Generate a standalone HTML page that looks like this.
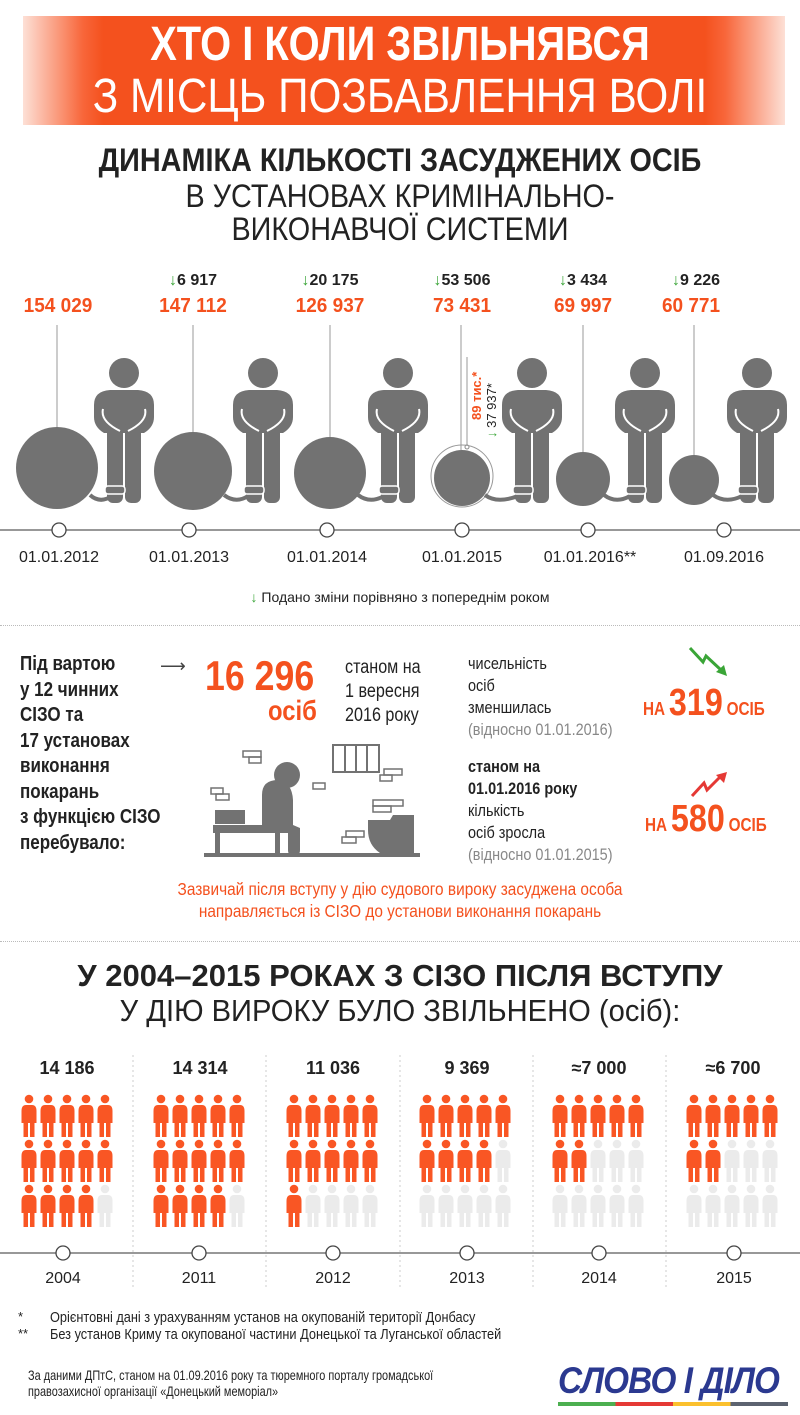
<!DOCTYPE html>
<html><head><meta charset="utf-8">
<style>
*{margin:0;padding:0;box-sizing:border-box}
body{width:800px;height:1415px;background:#fff;position:relative;overflow:hidden;font-family:"Liberation Sans","DejaVu Sans",sans-serif;color:#222}
.a{position:absolute;white-space:nowrap}
.c{transform:translateX(-50%)}
.or{color:#f4511e}
.n{font-weight:bold;font-size:20px;color:#f4511e;transform:translateX(-50%) scaleX(.95)}
.d{font-weight:bold;font-size:16px;color:#222;transform:translateX(-50%)}
.g{color:#3aa537}
.dt{font-size:16px;color:#222;transform:translateX(-50%)}
.nar{transform-origin:left center;transform:scaleX(.85)}
</style></head><body>

<!-- header -->
<div class="a" style="left:23px;top:16px;width:762px;height:109px;background:linear-gradient(90deg,#fde0d6 0,#f8663a 60px,#f4511e 80px,#f4511e 682px,#f8663a 702px,#fde0d6 762px)"></div>
<div class="a c" style="left:400px;top:17px;font-size:48px;font-weight:bold;color:#fff;transform:translateX(-50%) scaleX(.83)">ХТО І КОЛИ ЗВІЛЬНЯВСЯ</div>
<div class="a c" style="left:400px;top:69px;font-size:48px;color:#fff;transform:translateX(-50%) scaleX(.88)">З МІСЦЬ ПОЗБАВЛЕННЯ ВОЛІ</div>

<div class="a c" style="left:400px;top:142px;font-size:32px;font-weight:bold;color:#222;transform:translateX(-50%) scaleX(.9)">ДИНАМІКА КІЛЬКОСТІ ЗАСУДЖЕНИХ ОСІБ</div>
<div class="a c" style="left:400px;top:178px;font-size:32px;color:#222;transform:translateX(-50%) scaleX(.9)">В УСТАНОВАХ КРИМІНАЛЬНО-</div>
<div class="a c" style="left:400px;top:211px;font-size:32px;color:#222;transform:translateX(-50%) scaleX(.9)">ВИКОНАВЧОЇ СИСТЕМИ</div>

<!-- timeline numbers -->
<div class="a n" style="left:58px;top:295px">154 029</div>
<div class="a n" style="left:193px;top:295px">147 112</div>
<div class="a n" style="left:330px;top:295px">126 937</div>
<div class="a n" style="left:462px;top:295px">73 431</div>
<div class="a n" style="left:583px;top:295px">69 997</div>
<div class="a n" style="left:691px;top:295px">60 771</div>
<div class="a d" style="left:193px;top:272px"><span class="g">↓</span>6 917</div>
<div class="a d" style="left:330px;top:272px"><span class="g">↓</span>20 175</div>
<div class="a d" style="left:462px;top:272px"><span class="g">↓</span>53 506</div>
<div class="a d" style="left:583px;top:272px"><span class="g">↓</span>3 434</div>
<div class="a d" style="left:696px;top:272px"><span class="g">↓</span>9 226</div>

<svg class="a" style="left:0;top:0" width="800" height="620">
<defs>
<g id="p">
<circle cx="0" cy="0" r="15" fill="#727272"/>
<path d="M-30,32 Q-30,18 -14,17 L14,17 Q30,18 30,32 L30,44 Q30,54 20,60 L-20,60 Q-30,54 -30,44Z" fill="#727272"/>
<rect x="-17" y="48" width="16" height="82" rx="6" fill="#727272"/>
<rect x="1" y="48" width="16" height="82" rx="6" fill="#727272"/>
<path d="M-21,36 Q-24,48 -4,58 M21,36 Q24,48 4,58" stroke="#fff" stroke-width="2" fill="none"/>
<rect x="-19" y="113" width="20" height="8" rx="3" fill="#727272" stroke="#fff" stroke-width="1.5"/>
</g>
</defs>
<g stroke="#aaa" stroke-width="1.2">
<line x1="57" y1="325" x2="57" y2="428"/>
<line x1="193" y1="325" x2="193" y2="432"/>
<line x1="330" y1="325" x2="330" y2="437"/>
<line x1="461" y1="325" x2="461" y2="450"/>
<line x1="467" y1="357" x2="467" y2="447"/>
<line x1="583" y1="325" x2="583" y2="452"/>
<line x1="694" y1="325" x2="694" y2="455"/>
</g>
<circle cx="467" cy="447" r="2" fill="#fff" stroke="#888"/>
<g fill="#727272">
<circle cx="57" cy="468" r="41"/>
<circle cx="193" cy="471" r="39"/>
<circle cx="330" cy="473" r="36"/>
<circle cx="462" cy="478" r="28"/>
<circle cx="583" cy="479" r="27"/>
<circle cx="694" cy="480" r="25"/>
</g>
<circle cx="462" cy="476" r="31" fill="none" stroke="#999" stroke-width="1"/>
<g stroke="#727272" stroke-width="4" fill="none">
<path d="M90,495 Q100,504 112,496"/>
<path d="M224,495 Q236,504 248,496"/>
<path d="M358,495 Q370,504 384,496"/>
<path d="M485,495 Q497,504 518,496"/>
<path d="M604,495 Q616,504 630,496"/>
<path d="M713,495 Q726,504 742,496"/>
</g>
<use href="#p" x="124" y="373"/>
<use href="#p" x="263" y="373"/>
<use href="#p" x="398" y="373"/>
<use href="#p" x="532" y="373"/>
<use href="#p" x="645" y="373"/>
<use href="#p" x="757" y="373"/>
<line x1="0" y1="530" x2="800" y2="530" stroke="#777" stroke-width="1.5"/>
<g fill="#fff" stroke="#444" stroke-width="1.3">
<circle cx="59" cy="530" r="7"/><circle cx="189" cy="530" r="7"/><circle cx="327" cy="530" r="7"/>
<circle cx="462" cy="530" r="7"/><circle cx="588" cy="530" r="7"/><circle cx="724" cy="530" r="7"/>
</g>
<text transform="translate(481,420) rotate(-90)" font-size="13" font-weight="bold" fill="#f4511e" font-family="Liberation Sans">89 тис.*</text>
<text transform="translate(496,438) rotate(-90)" font-size="13" fill="#222" font-family="Liberation Sans"><tspan fill="#3aa537" font-weight="bold">↓</tspan> 37 937*</text>
</svg>

<div class="a dt" style="left:59px;top:549px">01.01.2012</div>
<div class="a dt" style="left:189px;top:549px">01.01.2013</div>
<div class="a dt" style="left:327px;top:549px">01.01.2014</div>
<div class="a dt" style="left:462px;top:549px">01.01.2015</div>
<div class="a dt" style="left:590px;top:549px">01.01.2016**</div>
<div class="a dt" style="left:724px;top:549px">01.09.2016</div>
<div class="a c" style="left:400px;top:589px;font-size:14px"><span class="g" style="font-weight:bold">↓</span> Подано зміни порівняно з попереднім роком</div>

<div class="a" style="left:0;top:625px;width:800px;border-top:1px dotted #bbb"></div>

<!-- middle -->
<div class="a nar" style="left:20px;top:652px;font-size:20px;font-weight:bold;line-height:25.5px;color:#222">Під вартою<br>у 12 чинних<br>СІЗО та<br>17 установах<br>виконання<br>покарань<br>з функцією СІЗО<br>перебувало:</div>
<div class="a" style="left:160px;top:656px;font-size:18px;color:#444">⟶</div>
<div class="a nar" style="left:205px;top:652px;font-size:42px;font-weight:bold;color:#f4511e">16 296</div>
<div class="a nar" style="left:268px;top:695px;font-size:28px;font-weight:bold;color:#f4511e">осіб</div>
<div class="a nar" style="left:345px;top:656px;font-size:19px;line-height:24px">станом на<br>1 вересня<br>2016 року</div>
<div class="a nar" style="left:468px;top:653px;font-size:17px;line-height:22px">чисельність<br>осіб<br>зменшилась<br><span style="color:#888">(відносно 01.01.2016)</span></div>
<div class="a nar" style="left:468px;top:756px;font-size:17px;line-height:22px"><b>станом на<br>01.01.2016 року</b><br>кількість<br>осіб зросла<br><span style="color:#888">(відносно 01.01.2015)</span></div>
<div class="a nar" style="left:643px;top:682px;color:#f4511e;font-weight:bold"><span style="font-size:18px">НА</span> <span style="font-size:38px">319</span> <span style="font-size:18px">ОСІБ</span></div>
<div class="a nar" style="left:645px;top:798px;color:#f4511e;font-weight:bold"><span style="font-size:18px">НА</span> <span style="font-size:38px">580</span> <span style="font-size:18px">ОСІБ</span></div>
<svg class="a" style="left:0;top:620px" width="800" height="250">
<path d="M690,28 L703,42 L706,36 L721,50" stroke="#3aa537" stroke-width="3" fill="none"/>
<path d="M727,56 L716,52 L724,45Z" fill="#3aa537"/>
<path d="M692,176 L704,163 L707,170 L720,157" stroke="#e53935" stroke-width="3" fill="none"/>
<path d="M727,152 L716,155 L724,163Z" fill="#e53935"/>
<!-- prison -->
<rect x="204" y="233" width="216" height="4" fill="#727272"/>
<rect x="213" y="205" width="70" height="8" fill="#727272"/>
<rect x="215" y="213" width="5" height="22" fill="#727272"/>
<rect x="275" y="213" width="5" height="22" fill="#727272"/>
<rect x="215" y="190" width="30" height="14" fill="#727272"/>
<circle cx="287" cy="155" r="13" fill="#727272"/>
<path d="M262,175 Q262,160 278,160 Q292,162 293,180 L293,205 L300,208 L300,230 Q300,236 294,236 Q288,236 288,230 L288,213 L262,213Z" fill="#727272"/>
<rect x="333" y="125" width="46" height="27" fill="none" stroke="#727272" stroke-width="2"/>
<path d="M345,125V152M356,125V152M367,125V152" stroke="#727272" stroke-width="2"/>
<path d="M368,200 L390,200 L393,195 L414,195 L414,233 L380,233 Q368,225 368,210Z" fill="#727272"/>
<g fill="none" stroke="#727272" stroke-width="1.5">
<rect x="243" y="131" width="18" height="6"/><rect x="249" y="137" width="12" height="6"/>
<rect x="211" y="168" width="12" height="6"/><rect x="216" y="174" width="13" height="6"/>
<rect x="313" y="163" width="12" height="6"/>
<rect x="384" y="149" width="18" height="6"/><rect x="380" y="155" width="12" height="6"/>
<rect x="373" y="180" width="30" height="6"/><rect x="373" y="186" width="18" height="6"/>
<rect x="346" y="211" width="18" height="6"/><rect x="342" y="217" width="14" height="6"/>
</g>
</svg>
<div class="a c" style="left:400px;top:878px;font-size:17.5px;line-height:22px;color:#f4511e;text-align:center;transform:translateX(-50%) scaleX(.88)">Зазвичай після вступу у дію судового вироку засуджена особа<br>направляється із СІЗО до установи виконання покарань</div>

<div class="a" style="left:0;top:941px;width:800px;border-top:1px dotted #bbb"></div>

<div class="a c" style="left:400px;top:958px;font-size:31px;font-weight:bold;color:#222;transform:translateX(-50%)">У 2004–2015 РОКАХ З СІЗО ПІСЛЯ ВСТУПУ</div>
<div class="a c" style="left:400px;top:993px;font-size:31px;color:#222;transform:translateX(-50%) scaleX(.94)">У ДІЮ ВИРОКУ БУЛО ЗВІЛЬНЕНО (осіб):</div>

<div class="a d" style="left:67px;top:1058px;font-size:18px">14 186</div>
<div class="a d" style="left:200px;top:1058px;font-size:18px">14 314</div>
<div class="a d" style="left:333px;top:1058px;font-size:18px">11 036</div>
<div class="a d" style="left:467px;top:1058px;font-size:18px">9 369</div>
<div class="a d" style="left:599px;top:1058px;font-size:18px">≈7 000</div>
<div class="a d" style="left:733px;top:1058px;font-size:18px">≈6 700</div>

<svg class="a" style="left:0;top:1040px" width="800" height="260">
<defs>
<g id="f"><circle cx="0" cy="4" r="4.3"/><path d="M-7.5,16 Q-7.5,10 -3,10 L3,10 Q7.5,10 7.5,16 L7.5,28 L-7.5,28Z"/><rect x="-5.5" y="26" width="4.5" height="16"/><rect x="1" y="26" width="4.5" height="16"/></g>
</defs>
<g stroke="#ccc" stroke-dasharray="2,3"><line x1="133" y1="15" x2="133" y2="250"/><line x1="266" y1="15" x2="266" y2="250"/><line x1="400" y1="15" x2="400" y2="250"/><line x1="533" y1="15" x2="533" y2="250"/><line x1="666" y1="15" x2="666" y2="250"/></g>
<g id="figs"></g>
<line x1="0" y1="213" x2="800" y2="213" stroke="#777" stroke-width="1.5"/>
<g fill="#fff" stroke="#444" stroke-width="1.3">
<circle cx="63" cy="213" r="7"/><circle cx="199" cy="213" r="7"/><circle cx="333" cy="213" r="7"/>
<circle cx="467" cy="213" r="7"/><circle cx="599" cy="213" r="7"/><circle cx="734" cy="213" r="7"/>
</g>
</svg>
<script>
(function(){var cs=[67,199,332,465,598,732],ns=[14,14,11,9,7,7],g=document.getElementById('figs'),h='';
for(var i=0;i<6;i++)for(var k=0;k<15;k++){var r=Math.floor(k/5),c=k%5;var x=cs[i]+(c-2)*19,y=55+r*45;
h+='<use href="#f" x="'+x+'" y="'+y+'" fill="'+(k<ns[i]?'#f95624':'#ebebeb')+'"/>';}
g.innerHTML=h;})();
</script>

<div class="a dt" style="left:63px;top:1270px">2004</div>
<div class="a dt" style="left:199px;top:1270px">2011</div>
<div class="a dt" style="left:333px;top:1270px">2012</div>
<div class="a dt" style="left:467px;top:1270px">2013</div>
<div class="a dt" style="left:599px;top:1270px">2014</div>
<div class="a dt" style="left:734px;top:1270px">2015</div>

<div class="a" style="left:18px;top:1309px;font-size:13px">*</div>
<div class="a" style="left:18px;top:1326px;font-size:13px">**</div>
<div class="a nar" style="left:50px;top:1309px;font-size:15px;line-height:17px">Орієнтовні дані з урахуванням установ на окупованій території Донбасу<br>Без установ Криму та окупованої частини Донецької та Луганської областей</div>
<div class="a nar" style="left:28px;top:1367px;font-size:14px;line-height:16px;transform:scaleX(.78)">За даними ДПтС, станом на 01.09.2016 року та тюремного порталу громадської<br>правозахисної організації «Донецький меморіал»</div>
<div class="a" style="left:558px;top:1360px;font-size:37px;font-weight:bold;font-style:italic;color:#2b3990;transform-origin:left center;transform:scaleX(.9);letter-spacing:-1px">СЛОВО І ДІЛО</div>
<div class="a" style="left:558px;top:1402px;width:230px;height:4px;background:linear-gradient(90deg,#4caf50 0,#4caf50 25%,#e53935 25%,#e53935 50%,#fbc02d 50%,#fbc02d 75%,#5c6370 75%)"></div>
</body></html>
